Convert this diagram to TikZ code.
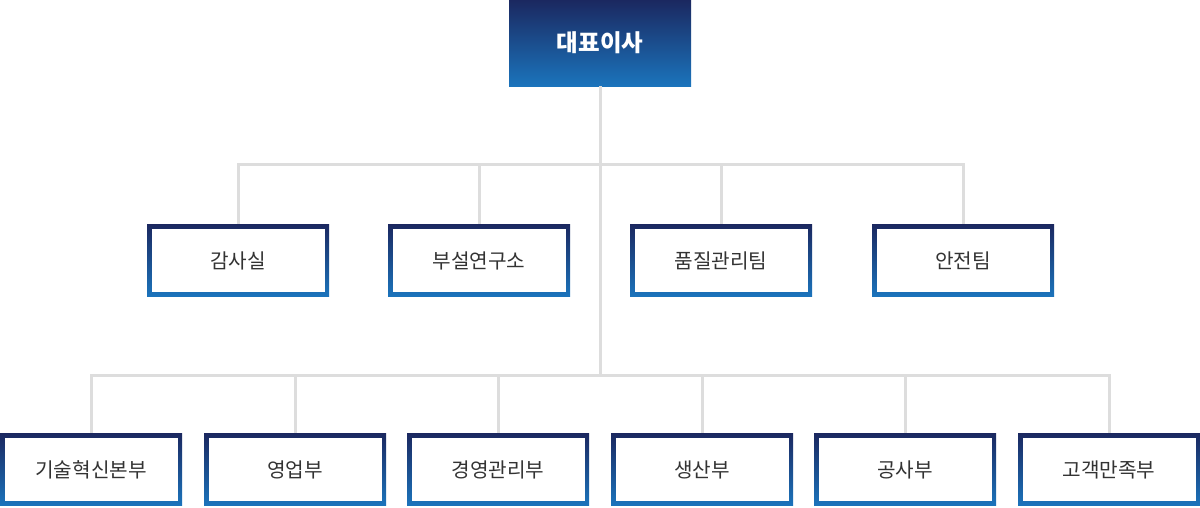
\documentclass[tikz,border=0pt]{standalone}
\usepackage{fontspec}
\newfontfamily\kr{Noto Sans CJK KR}
\definecolor{navy}{HTML}{1B2860}
\definecolor{blu}{HTML}{1B74BC}
\definecolor{ln}{HTML}{DDDDDD}
\definecolor{tx}{HTML}{333333}
\tikzset{
  conn/.style={draw=ln, line width=3pt},
  topbox/.style={rectangle, minimum width=182pt, minimum height=86pt, inner sep=0pt,
    top color=navy, bottom color=blu, text=white, font=\kr\bfseries\fontsize{23.5}{28}\selectfont},
  unit/.style={rectangle, minimum width=182pt, minimum height=72pt, inner sep=0pt,
    top color=navy, bottom color=blu, text=tx, font=\kr\fontsize{20.2}{24}\selectfont,
    path picture={\fill[white] ([shift={(4.5pt,4.5pt)}]path picture bounding box.south west) rectangle ([shift={(-4.5pt,-4.5pt)}]path picture bounding box.north east);}}
}
\begin{document}
\begin{tikzpicture}[x=1pt,y=-1pt]
\useasboundingbox (0,0) rectangle (1200,507);
\node[topbox] (ceo) at (600,43) {\raisebox{-1pt}{대표이사}};
\coordinate (j1) at (600,164);
\coordinate (j2) at (600,375);
\node[unit] (a1) at (238,260.5) {감사실};
\node[unit] (a2) at (479,260.5) {부설연구소};
\node[unit] (a3) at (721,260.5) {품질관리팀};
\node[unit] (a4) at (963,260.5) {안전팀};
\node[unit] (b1) at (91,469.5) {기술혁신본부};
\node[unit] (b2) at (295,469.5) {영업부};
\node[unit] (b3) at (498,469.5) {경영관리부};
\node[unit] (b4) at (702,469.5) {생산부};
\node[unit] (b5) at (905,469.5) {공사부};
\node[unit] (b6) at (1109,469.5) {고객만족부};
\draw[conn] (ceo.south) -- (j2);
\foreach \n in {a1,a2,a3,a4} \draw[conn] (j1) -| (\n.north);
\foreach \n in {b1,b2,b3,b4,b5,b6} \draw[conn] (j2) -| (\n.north);
\end{tikzpicture}
\end{document}
